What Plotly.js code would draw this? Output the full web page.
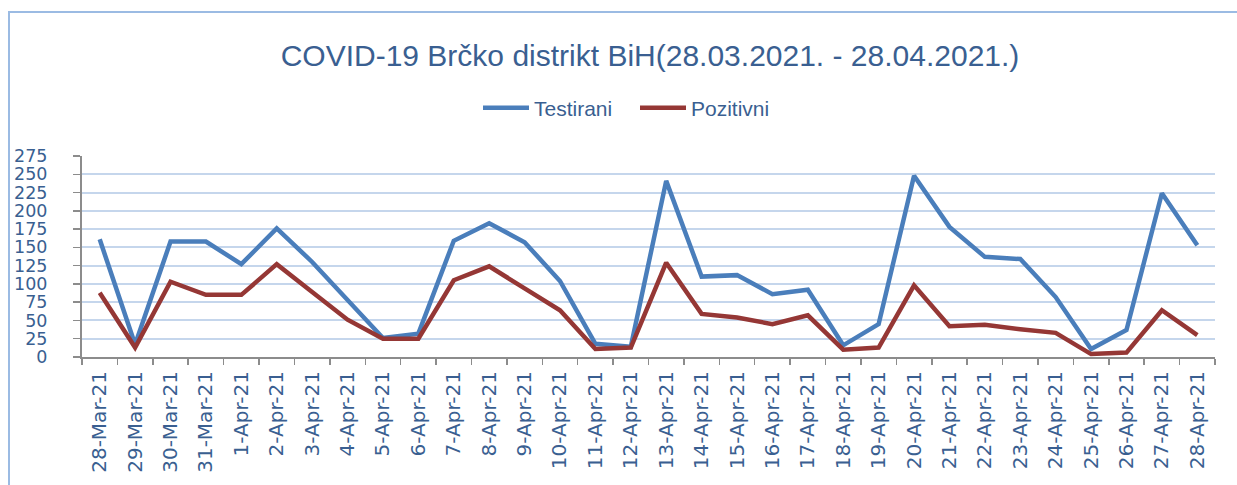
<!DOCTYPE html>
<html>
<head>
<meta charset="utf-8">
<script src="https://cdn.plot.ly/plotly-3.0.1.min.js"></script>
<style>
  html, body { margin: 0; padding: 0; background: #fff; }
  #frame { position: absolute; left: 8px; top: 11px; width: 1240px; height: 480px; border-left: 2px solid #9BBBE3; border-top: 2px solid #9BBBE3; pointer-events: none; z-index: 5; }
  #chart { width: 1237px; height: 485px; }
</style>
</head>
<body>
<div id="frame"></div>
<div id="chart"></div>
<script>
const dates = ["28-Mar-21","29-Mar-21","30-Mar-21","31-Mar-21","1-Apr-21","2-Apr-21","3-Apr-21","4-Apr-21","5-Apr-21","6-Apr-21","7-Apr-21","8-Apr-21","9-Apr-21","10-Apr-21","11-Apr-21","12-Apr-21","13-Apr-21","14-Apr-21","15-Apr-21","16-Apr-21","17-Apr-21","18-Apr-21","19-Apr-21","20-Apr-21","21-Apr-21","22-Apr-21","23-Apr-21","24-Apr-21","25-Apr-21","26-Apr-21","27-Apr-21","28-Apr-21"];
const testirani = [161,17,158,158,127,176,130,78,26,32,159,183,157,104,18,14,241,110,112,86,92,16,45,248,178,137,134,82,11,37,224,153];
const pozitivni = [88,13,103,85,85,127,89,51,25,25,105,124,94,64,11,13,129,59,54,45,57,10,13,98,42,44,38,33,4,6,64,30];
const yTicks = [0,25,50,75,100,125,150,175,200,225,250,275];

const textColor = "#3A5F91";
const traces = [
  { x: dates, y: testirani, name: "Testirani", type: "scatter", mode: "lines",
    line: { color: "#4A7EBB", width: 4.5 } },
  { x: dates, y: pozitivni, name: "Pozitivni", type: "scatter", mode: "lines",
    line: { color: "#953735", width: 4.5 } }
];

const layout = {
  width: 1237, height: 485,
  margin: { l: 82, r: 22, t: 156, b: 128 },
  paper_bgcolor: "#fff", plot_bgcolor: "#fff",
  title: { text: "COVID-19 Brčko distrikt BiH(28.03.2021. - 28.04.2021.)",
    font: { family: "Liberation Sans, Arial, sans-serif", size: 30, color: textColor },
    x: 650 / 1237, xanchor: "center", xref: "container",
    y: 1 - 55 / 485, yanchor: "middle", yref: "container" },
  showlegend: true,
  legend: { orientation: "h", x: 478 / 1237, xanchor: "left", xref: "container",
    y: 1 - 108 / 485, yanchor: "middle", yref: "container",
    font: { family: "Liberation Sans, Arial, sans-serif", size: 21, color: textColor },
    itemwidth: 46, entrywidth: 96, entrywidthmode: "pixels", tracegroupgap: 0 },
  xaxis: {
    type: "category", range: [-0.5, dates.length - 0.5],
    tickangle: -90, tickson: "boundaries",
    ticks: "outside", ticklen: 6, tickwidth: 1.5, tickcolor: "#8C8C8C",
    showline: true, linecolor: "#8C8C8C", linewidth: 2,
    showgrid: false, zeroline: false,
    tickfont: { family: "DejaVu Sans, Verdana, sans-serif", size: 20, color: textColor },
    ticklabelstandoff: 4,
    fixedrange: true
  },
  yaxis: {
    range: [0, 275], tickvals: yTicks, ticktext: yTicks.map(String),
    ticks: "outside", ticklen: 7, tickwidth: 1.5, tickcolor: "#8C8C8C",
    showline: true, linecolor: "#8C8C8C", linewidth: 2,
    showgrid: true, gridcolor: "#C5D6EC", gridwidth: 2, zeroline: false,
    tickfont: { family: "DejaVu Sans, Verdana, sans-serif", size: 17.5, color: textColor },
    ticklabelstandoff: 22,
    fixedrange: true
  }
};

Plotly.newPlot("chart", traces, layout, { displayModeBar: false, staticPlot: true });
</script>
</body>
</html>
